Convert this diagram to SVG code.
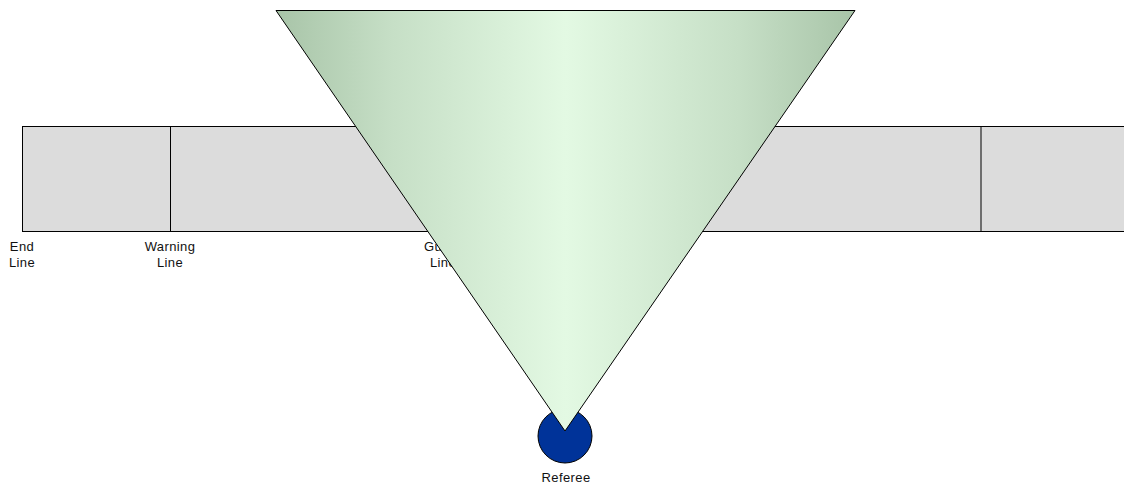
<svg xmlns="http://www.w3.org/2000/svg" width="1124" height="487" viewBox="0 0 1124 487">
<style>
.lbl{font-family:"Liberation Sans",Arial,sans-serif;font-size:13px;fill:#111;text-anchor:middle;letter-spacing:0.4px}
.ln{stroke:#000;stroke-width:1;fill:none}
</style>
<defs>
<linearGradient id="g" x1="0" y1="0" x2="1" y2="0">
<stop offset="0" stop-color="#a8c4a8"/>
<stop offset="0.2" stop-color="#c6dfc6"/>
<stop offset="0.5" stop-color="#e3f9e3"/>
<stop offset="0.8" stop-color="#c6dfc6"/>
<stop offset="1" stop-color="#a8c4a8"/>
</linearGradient>
</defs>
<rect width="1124" height="487" fill="#fff"/>
<g id="piste">
<rect x="22.5" y="126.5" width="1120" height="105" fill="#dcdcdc" stroke="#000" stroke-width="1"/>
<line class="ln" x1="170.5" y1="126.5" x2="170.5" y2="231.5"/>
<line class="ln" x1="443.5" y1="126.5" x2="443.5" y2="231.5"/>
<line class="ln" x1="981" y1="126.5" x2="981" y2="231.5"/>
</g>
<g id="end-line"><text class="lbl" x="22" y="251">End</text><text class="lbl" x="22" y="267">Line</text></g>
<g id="warning-line"><text class="lbl" x="170" y="251">Warning</text><text class="lbl" x="170" y="267">Line</text></g>
<g id="guard-line"><text class="lbl" x="443" y="251">Guard</text><text class="lbl" x="443" y="267">Line</text></g>
<g id="referee">
<circle cx="565" cy="436" r="27" fill="#003399" stroke="#000" stroke-width="1"/>
<text class="lbl" x="566" y="482">Referee</text>
</g>
<g id="view-cone">
<polygon points="276,10.5 855,10.5 565,431" fill="url(#g)" stroke="#000" stroke-width="1"/>
</g>
<g id="connectors"/>
</svg>
